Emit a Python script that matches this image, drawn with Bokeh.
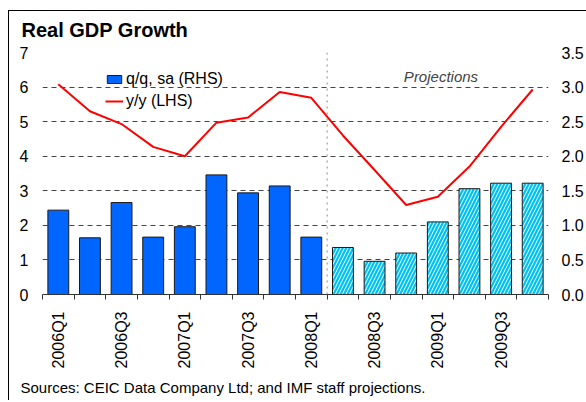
import math
from bokeh.plotting import figure
from bokeh.models import (Range1d, LinearAxis, FixedTicker, Label, Span, Legend,
                          LegendItem, ColumnDataSource, Title, InlineStyleSheet)
from bokeh.embed import file_html
from bokeh.resources import INLINE

# ---- data ----
quarters = ["2006Q1", "2006Q2", "2006Q3", "2006Q4",
            "2007Q1", "2007Q2", "2007Q3", "2007Q4",
            "2008Q1", "2008Q2", "2008Q3", "2008Q4",
            "2009Q1", "2009Q2", "2009Q3", "2009Q4"]
qq_sa_rhs = [1.22, 0.82, 1.33, 0.83, 0.98, 1.73, 1.47, 1.57,
             0.83, 0.68, 0.48, 0.60, 1.05, 1.53, 1.61, 1.61]
yy_lhs = [6.08, 5.30, 4.93, 4.27, 4.00, 4.97, 5.12, 5.86,
          5.69, 4.60, 3.60, 2.59, 2.83, 3.70, 4.85, 5.93]
projected = [False] * 9 + [True] * 7
lhs_ticks = [0, 1, 2, 3, 4, 5, 6, 7]
rhs_ticks = [0.0, 0.5, 1.0, 1.5, 2.0, 2.5, 3.0, 3.5]
title_text = "Real GDP Growth"
source_text = "Sources: CEIC Data Company Ltd; and IMF staff projections."

FONT = "Liberation Sans"
n = len(quarters)
xc = [i + 0.5 for i in range(n)]

p = figure(width=586, height=400, x_range=Range1d(0, n), y_range=Range1d(0, 7),
           output_backend="svg", toolbar_location=None,
           min_border_left=42, min_border_right=36, min_border_top=52, min_border_bottom=105)
p.extra_y_ranges = {"rhs": Range1d(0, 3.5)}
p.outline_line_color = None
p.background_fill_color = "white"
p.border_fill_color = "white"

# outer frame (left and top edges visible in the window)
p.stylesheets = [InlineStyleSheet(css="""
:host { position: relative; }
:host::after { content: ""; position: absolute; left: 8px; top: 10px; right: 0; bottom: 0;
  border-left: 1.5px solid black; border-top: 1.5px solid black; pointer-events: none; }
""")]

# title and source
p.title = Title(text=title_text, align="left", offset=-21, standoff=24, text_font=FONT,
                text_font_style="bold", text_font_size="20px", text_color="black")
p.add_layout(Title(text=source_text, align="left", offset=-22, text_font=FONT,
                   text_font_style="normal", text_font_size="15px", text_color="black"),
             "below")

# grid
p.xgrid.grid_line_color = None
p.ygrid.ticker = FixedTicker(ticks=lhs_ticks[1:])
p.ygrid.grid_line_color = "#444444"
p.ygrid.grid_line_dash = "5 4"
p.ygrid.grid_line_width = 1

# bars
act = ColumnDataSource(dict(x=[x for x, pr in zip(xc, projected) if not pr],
                            top=[v for v, pr in zip(qq_sa_rhs, projected) if not pr]))
prj = ColumnDataSource(dict(x=[x for x, pr in zip(xc, projected) if pr],
                            top=[v for v, pr in zip(qq_sa_rhs, projected) if pr]))
r_act = p.vbar(x="x", top="top", width=0.66, source=act, y_range_name="rhs",
               fill_color="#0066FF", line_color="#1a1a1a", line_width=1)
r_prj = p.vbar(x="x", top="top", width=0.66, source=prj, y_range_name="rhs",
               fill_color="#00C0F2", line_color="#1a1a1a", line_width=1,
               hatch_pattern="/", hatch_color="white", hatch_scale=7, hatch_weight=1,
               hatch_alpha=0.95)

# projection divider
first_proj = projected.index(True)
p.add_layout(Span(location=first_proj, dimension="height", line_color="#888888",
                  line_dash="dotted", line_width=1))

# line
r_line = p.line(xc, yy_lhs, line_color="#FF0000", line_width=2)

# axes
ax = p.xaxis[0]
ax.ticker = FixedTicker(ticks=[xc[i] for i in range(0, n, 2)],
                        minor_ticks=list(range(0, n + 1)))
ax.major_label_overrides = {xc[i]: quarters[i] for i in range(0, n, 2)}
ax.major_label_orientation = math.pi / 2
ax.major_tick_line_color = None
ax.major_tick_out = 0
ax.major_tick_in = 0
ax.minor_tick_out = 5
ax.minor_tick_in = 0
ax.minor_tick_line_color = "#333333"
ax.axis_line_color = "#333333"
ax.major_label_standoff = 12
ax.major_label_text_font = FONT
ax.major_label_text_font_size = "16px"
ax.major_label_text_color = "black"

ly = p.yaxis[0]
ly.ticker = FixedTicker(ticks=lhs_ticks)
ly.axis_line_color = None
ly.major_tick_line_color = None
ly.minor_tick_line_color = None
ly.major_tick_out = 0
ly.major_label_standoff = 14
ly.major_label_text_font = FONT
ly.major_label_text_font_size = "16px"
ly.major_label_text_color = "black"

ry = LinearAxis(y_range_name="rhs", ticker=FixedTicker(ticks=rhs_ticks))
ry.major_label_overrides = {t: f"{t:.1f}" for t in rhs_ticks}
ry.axis_line_color = None
ry.major_tick_line_color = None
ry.minor_tick_line_color = None
ry.major_tick_out = 0
ry.major_label_standoff = 13
ry.major_label_text_font = FONT
ry.major_label_text_font_size = "16px"
ry.major_label_text_color = "black"
p.add_layout(ry, "right")

# legend
legend = Legend(items=[LegendItem(label="q/q, sa (RHS)", renderers=[r_act]),
                       LegendItem(label="y/y (LHS)", renderers=[r_line])],
                location=(63, 183), padding=0, margin=0, spacing=2,
                glyph_width=18, glyph_height=10, label_height=20, label_standoff=3,
                label_text_font=FONT, label_text_font_size="16px", label_text_color="black",
                border_line_color=None, background_fill_alpha=0)
p.add_layout(legend)

# projections note
px_y = 7 / 243.0
p.add_layout(Label(x=12.6, y=(295 - 76) * px_y, text="Projections", text_align="center",
                   text_font=FONT, text_font_style="italic", text_font_size="15px",
                   text_baseline="alphabetic"))

open("out.html", "w").write(file_html(p, INLINE))
